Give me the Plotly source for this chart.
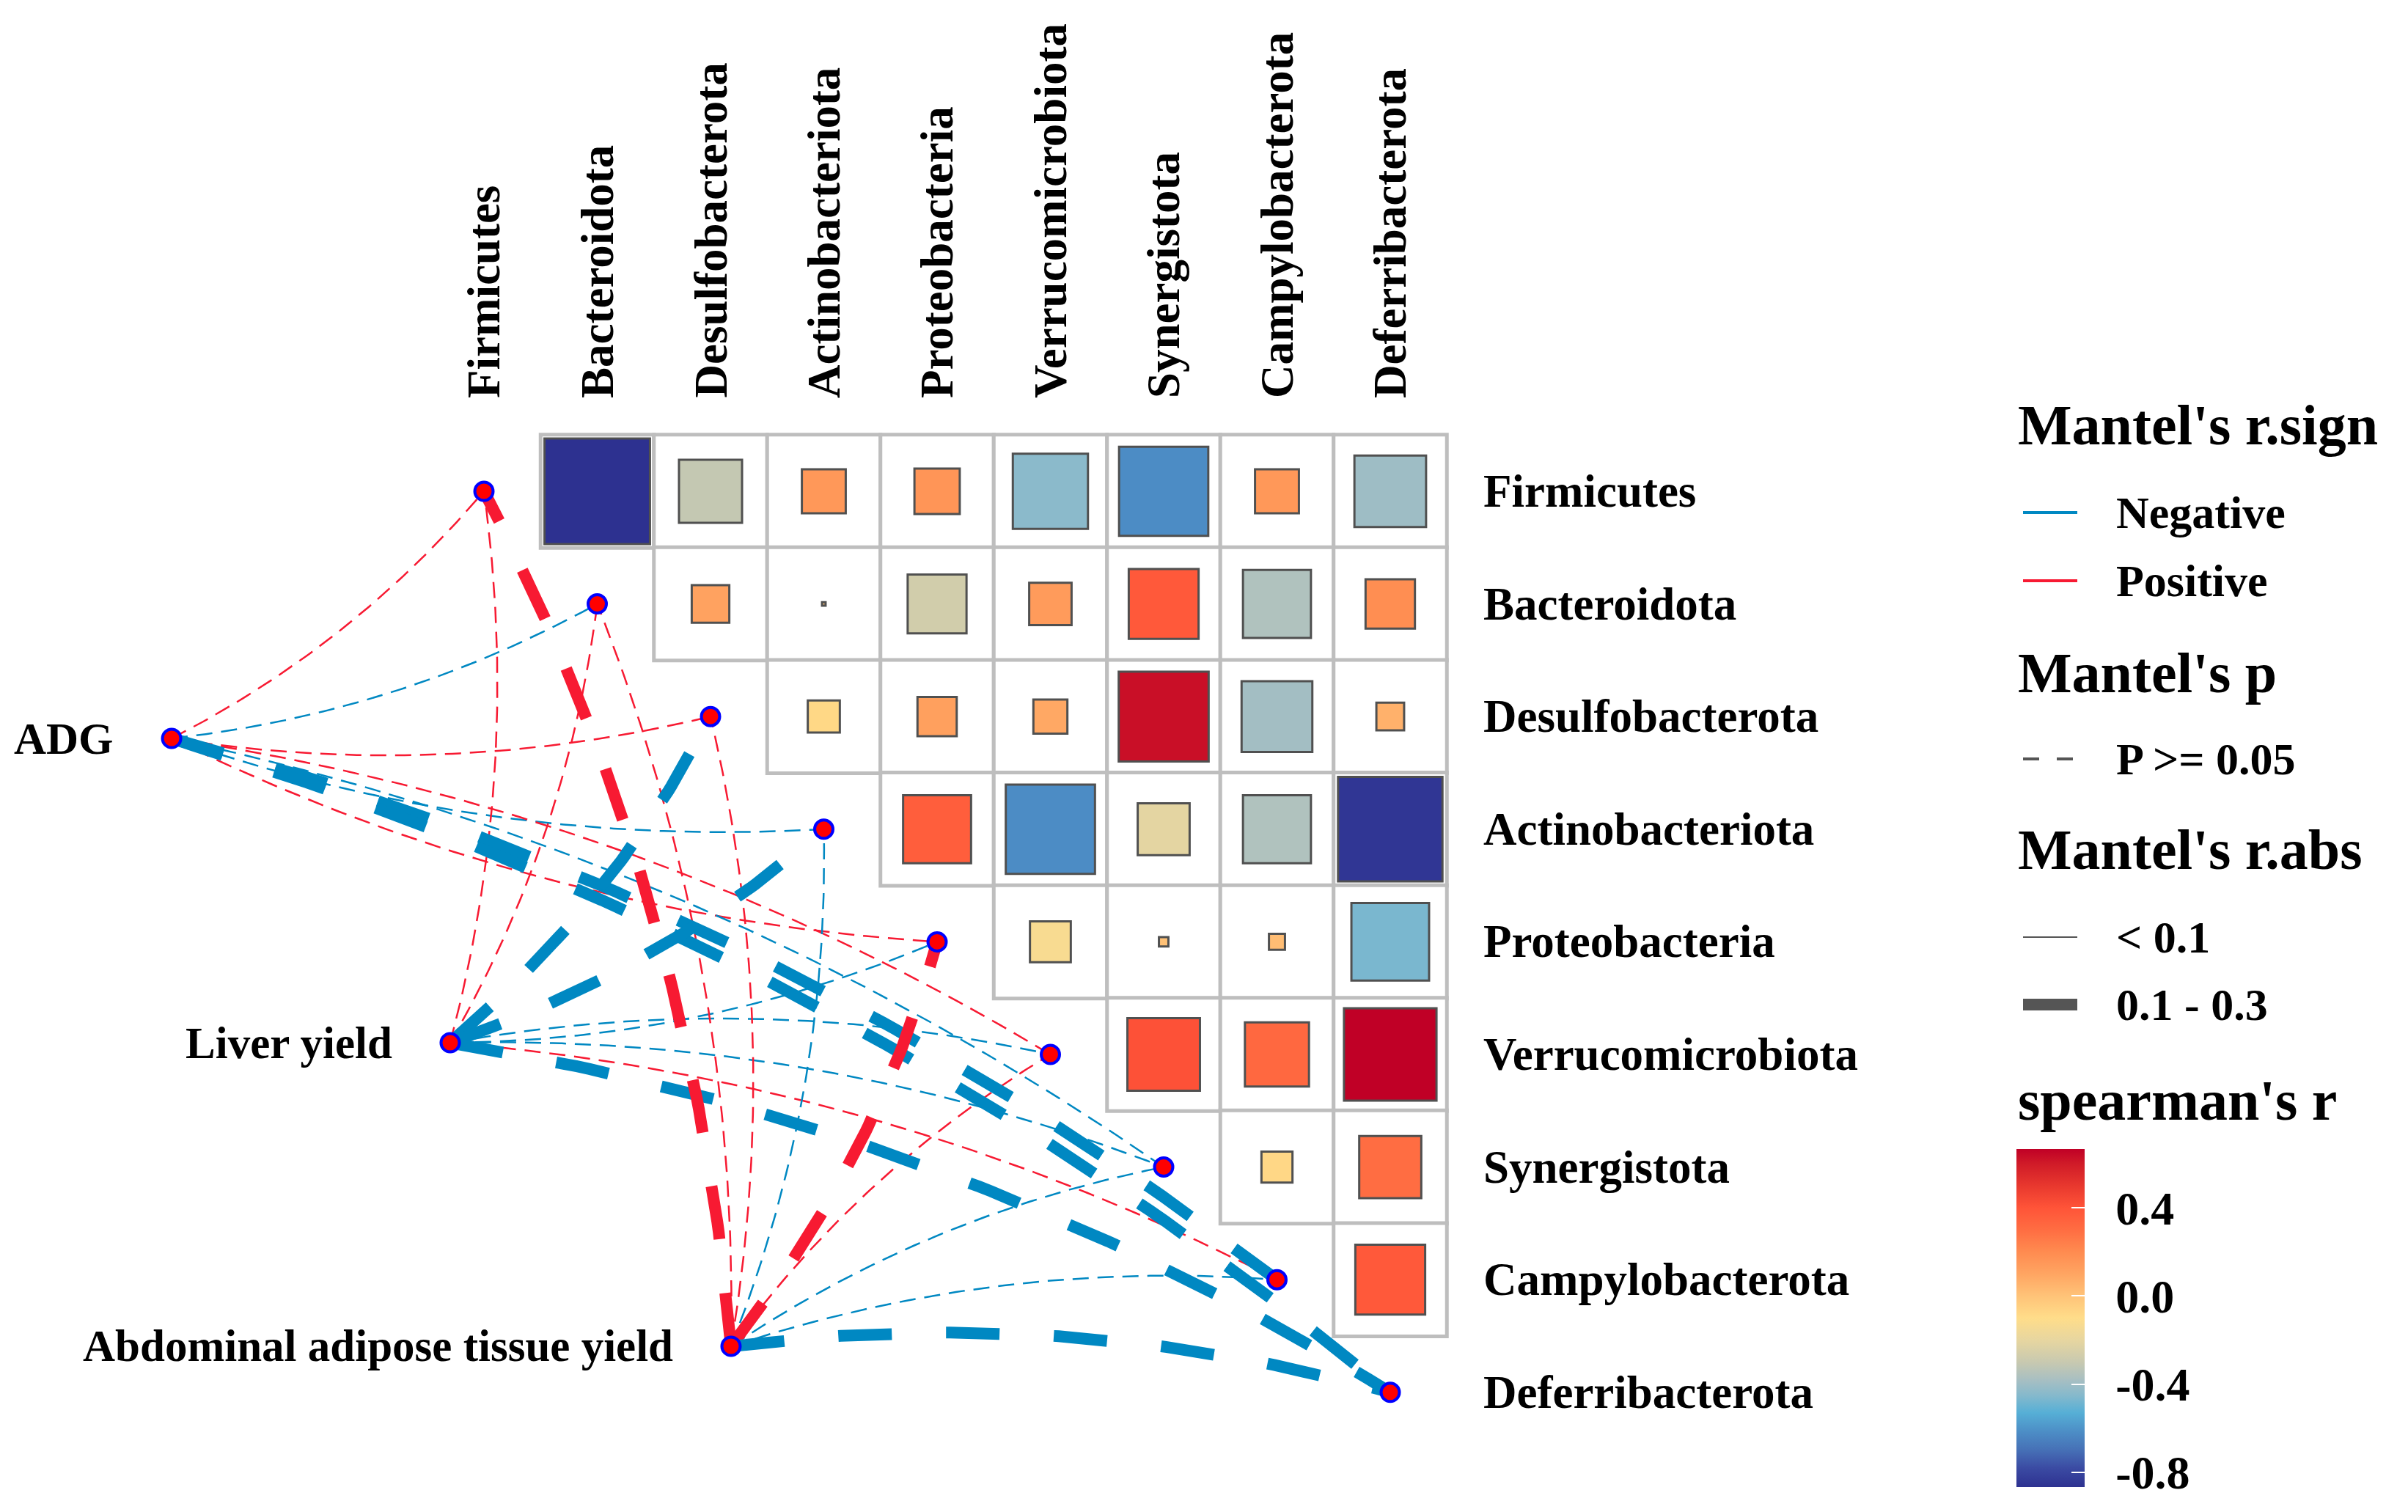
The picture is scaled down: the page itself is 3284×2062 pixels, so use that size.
import numpy as np
import plotly.graph_objects as go

# ---------------- data ----------------
phyla = ["Firmicutes", "Bacteroidota", "Desulfobacterota", "Actinobacteriota",
         "Proteobacteria", "Verrucomicrobiota", "Synergistota",
         "Campylobacterota", "Deferribacterota"]

# Spearman's r, upper triangle (row phylum vs. every later phylum)
r_firmicutes = [-0.867, -0.31, 0.15, 0.16, -0.44, -0.62, 0.15, -0.40]
r_bacteroidota = [0.11, 0.001, -0.27, 0.14, 0.38, -0.36, 0.19]
r_desulfobacterota = [-0.08, 0.12, 0.09, 0.63, -0.39, 0.06]
r_actinobacteriota = [0.36, -0.62, -0.21, -0.36, -0.85]
r_proteobacteria = [-0.13, 0.007, 0.02, -0.47]
r_verrucomicrobiota = [0.41, 0.32, 0.667]
r_synergistota = [-0.075, 0.30]
r_campylobacterota = [0.38]

env_names = ["ADG", "Liver yield", "Abdominal adipose tissue yield"]
# Mantel's r (signed) of each environment factor vs. each phylum
mantel_r_adg = [0.05, -0.04, 0.03, -0.06, 0.04, 0.05, -0.07, -0.15, -0.18]
mantel_r_liver = [0.04, 0.06, -0.14, -0.12, -0.05, -0.03, -0.06, 0.05, -0.16]
mantel_r_abdominal = [0.17, 0.05, 0.04, -0.06, 0.13, 0.07, -0.05, -0.04, -0.19]
# Mantel's p (all >= 0.05)
mantel_p_adg = [0.42, 0.55, 0.61, 0.38, 0.47, 0.52, 0.33, 0.12, 0.09]
mantel_p_liver = [0.58, 0.36, 0.14, 0.18, 0.49, 0.66, 0.41, 0.44, 0.11]
mantel_p_abdominal = [0.08, 0.51, 0.57, 0.39, 0.16, 0.30, 0.46, 0.53, 0.07]

cbar_ticks = [-0.8, -0.4, 0.0, 0.4]
cbar_ticktext = ["-0.8", "-0.4", "0.0", "0.4"]

# ---------------- layout constants ----------------
W, H = 3284, 2062
X0, Y0 = 660.0, 670.0      # pixel position of first diagonal node
SX, SY = 154.5, 153.6      # pixels per cell
FONT = "Liberation Serif, Times New Roman, serif"
BLUE = "#0088C2"
RED = "#F71A32"
env_x = [-2.757, -0.298, 2.181]
env_y = [2.194, 4.896, 7.591]
CMIN, CMAX = -0.867, 0.667


def px2x(px):
    return (px - X0) / SX


def py2y(py):
    return (py - Y0) / SY


def pxp(px):
    return px / W


def pyp(py):
    return 1 - py / H


# colour scale (reversed RdYlBu-like, as in the reference bar)
cs_vals = [-0.867, -0.78, -0.70, -0.62, -0.53, -0.45, -0.38, -0.30, -0.20, -0.10,
           0.0, 0.10, 0.20, 0.30, 0.40, 0.50, 0.60, 0.667]
cs_cols = ["#2D3190", "#3B4BA3", "#4670B6", "#4C8CC5", "#56AFD6", "#86B9CC",
           "#A8BFC2", "#C8C9B0", "#E7D6A0", "#FFDD8A", "#FFC378", "#FFA562",
           "#FF8B50", "#FF6D42", "#FF5438", "#E8382E", "#D01B28", "#C00026"]
colorscale = [[(v - CMIN) / (CMAX - CMIN), c] for v, c in zip(cs_vals, cs_cols)]

fig = go.Figure()

# ---------------- grid cells ----------------
rows = [r_firmicutes, r_bacteroidota, r_desulfobacterota, r_actinobacteriota,
        r_proteobacteria, r_verrucomicrobiota, r_synergistota, r_campylobacterota]
gx, gy = [], []
sx, sy, sv = [], [], []
for i, row in enumerate(rows):
    for k, v in enumerate(row):
        gx.append(i + 1 + k)
        gy.append(i)
        sx.append(i + 1 + k)
        sy.append(i)
        sv.append(v)

fig.add_trace(go.Scatter(
    x=gx, y=gy, mode="markers", hoverinfo="skip", showlegend=False,
    marker=dict(symbol="square", size=SX, color="white", opacity=1,
                line=dict(color="#BEBEBE", width=5))))

# ---------------- links (curves) ----------------
def curve(x0, y0, x1, y1, side, curv=0.1, n=80):
    dx, dy = x1 - x0, y1 - y0
    L = np.hypot(dx, dy)
    if side > 0:   # right-hand bend (y axis points down)
        nx, ny = -dy / L, dx / L
    else:
        nx, ny = dy / L, -dx / L
    cx = (x0 + x1) / 2 + curv * L * nx
    cy = (y0 + y1) / 2 + curv * L * ny
    t = np.linspace(0, 1, n)
    xs = (1 - t) ** 2 * x0 + 2 * t * (1 - t) * cx + t ** 2 * x1
    ys = (1 - t) ** 2 * y0 + 2 * t * (1 - t) * cy + t ** 2 * y1
    return xs, ys


mantel_r = [mantel_r_adg, mantel_r_liver, mantel_r_abdominal]
mantel_p = [mantel_p_adg, mantel_p_liver, mantel_p_abdominal]
links = []
for e in range(3):
    for j in range(9):
        links.append((e, j, mantel_r[e][j], mantel_p[e][j]))
# thin links first, thick links on top
links.sort(key=lambda l: abs(l[2]) >= 0.1)
for e, j, r, p in links:
    thick = abs(r) >= 0.1
    side = 1 if j <= 4 else -1
    xs, ys = curve(env_x[e], env_y[e], j, j, side)
    dash = "73px,74px" if thick else "22px,12px"
    if p < 0.05:
        dash = "solid"
    fig.add_trace(go.Scatter(
        x=xs, y=ys, mode="lines", hoverinfo="skip", showlegend=False,
        line=dict(color=BLUE if r < 0 else RED, width=16 if thick else 2.5,
                  dash=dash)))

# ---------------- correlation squares ----------------
sizes = [SX * np.sqrt(abs(v)) for v in sv]
fig.add_trace(go.Scatter(
    x=sx, y=sy, mode="markers", hoverinfo="skip", showlegend=False,
    marker=dict(symbol="square", size=sizes, color=sv, colorscale=colorscale,
                cmin=CMIN, cmax=CMAX, opacity=1,
                line=dict(color="#505050", width=3),
                colorbar=dict(
                    x=pxp(2750), xanchor="left", xpad=0,
                    y=pyp(1797.5), yanchor="middle", ypad=0,
                    len=461, lenmode="pixels", thickness=93,
                    thicknessmode="pixels", outlinewidth=0,
                    tickvals=cbar_ticks, ticktext=cbar_ticktext,
                    ticks="outside", ticklen=30, tickwidth=1,
                    tickcolor="rgba(0,0,0,0)",
                    tickfont=dict(family=FONT, size=64, color="black",
                                  weight="bold"),
                    title=dict(text="")))))

# overlay colour bar carrying only the white inner tick marks
fig.add_trace(go.Scatter(
    x=[-100], y=[-100], mode="markers", hoverinfo="skip", showlegend=False,
    marker=dict(color=[0], colorscale=colorscale, cmin=CMIN, cmax=CMAX,
                showscale=True,
                colorbar=dict(
                    x=pxp(2750), xanchor="left", xpad=0,
                    y=pyp(1797.5), yanchor="middle", ypad=0,
                    len=461, lenmode="pixels", thickness=93,
                    thicknessmode="pixels", outlinewidth=0,
                    tickvals=cbar_ticks, showticklabels=False,
                    ticks="inside", ticklen=18, tickwidth=2,
                    tickcolor="white", title=dict(text="")))))

# ---------------- nodes ----------------
fig.add_trace(go.Scatter(
    x=list(range(9)) + env_x, y=list(range(9)) + env_y, mode="markers",
    hoverinfo="skip", showlegend=False,
    marker=dict(symbol="circle", size=25, color="#FF0000", opacity=1,
                line=dict(color="#0000FF", width=4))))

# ---------------- text ----------------
ann = []
for j, name in enumerate(phyla):
    ann.append(dict(x=j, y=py2y(545), xref="x", yref="y", text="<b>%s</b>" % name,
                    textangle=-90, xanchor="center", yanchor="bottom",
                    showarrow=False, font=dict(family=FONT, size=63, color="black")))
    ann.append(dict(x=px2x(2021), y=j, xref="x", yref="y", text="<b>%s</b>" % name,
                    xanchor="left", yanchor="middle", showarrow=False,
                    font=dict(family=FONT, size=63, color="black")))
for e, name in enumerate(env_names):
    ann.append(dict(x=env_x[e] - 0.5, y=env_y[e], xref="x", yref="y",
                    text="<b>%s</b>" % name, xanchor="right", yanchor="middle",
                    showarrow=False, font=dict(family=FONT, size=61, color="black")))

# ---------------- legend ----------------
shapes = []


def leg_title(text, py):
    ann.append(dict(x=pxp(2750), y=pyp(py), xref="paper", yref="paper",
                    text="<b>%s</b>" % text, xanchor="left", yanchor="middle",
                    showarrow=False, font=dict(family=FONT, size=78, color="black")))


def leg_item(text, py, color, width, dash="solid"):
    shapes.append(dict(type="line", xref="paper", yref="paper",
                       x0=pxp(2759), x1=pxp(2833), y0=pyp(py), y1=pyp(py),
                       line=dict(color=color, width=width, dash=dash)))
    ann.append(dict(x=pxp(2884), y=pyp(py), xref="paper", yref="paper",
                    text="<b>%s</b>" % text, xanchor="left", yanchor="middle",
                    showarrow=False, font=dict(family=FONT, size=62, color="black")))


leg_title("Mantel's r.sign", 579)
leg_item("Negative", 699, BLUE, 4)
leg_item("Positive", 792, RED, 4)
leg_title("Mantel's p", 917)
leg_item("P &gt;= 0.05", 1035, "#555555", 4, "22px,24px")
leg_title("Mantel's r.abs", 1158)
leg_item("&lt; 0.1", 1278, "#555555", 2)
leg_item("0.1 - 0.3", 1370, "#555555", 16)
leg_title("spearman's r", 1500)

fig.update_layout(
    width=W, height=H, margin=dict(l=0, r=0, t=0, b=0, pad=0),
    paper_bgcolor="white", plot_bgcolor="white", showlegend=False,
    xaxis=dict(range=[px2x(0), px2x(W)], visible=False, fixedrange=True),
    yaxis=dict(range=[py2y(H), py2y(0)], visible=False, fixedrange=True),
    annotations=ann, shapes=shapes)

fig.write_html("out.html", config={"displayModeBar": False},
               post_script="document.body.style.margin='0';document.body.style.overflow='hidden';")
